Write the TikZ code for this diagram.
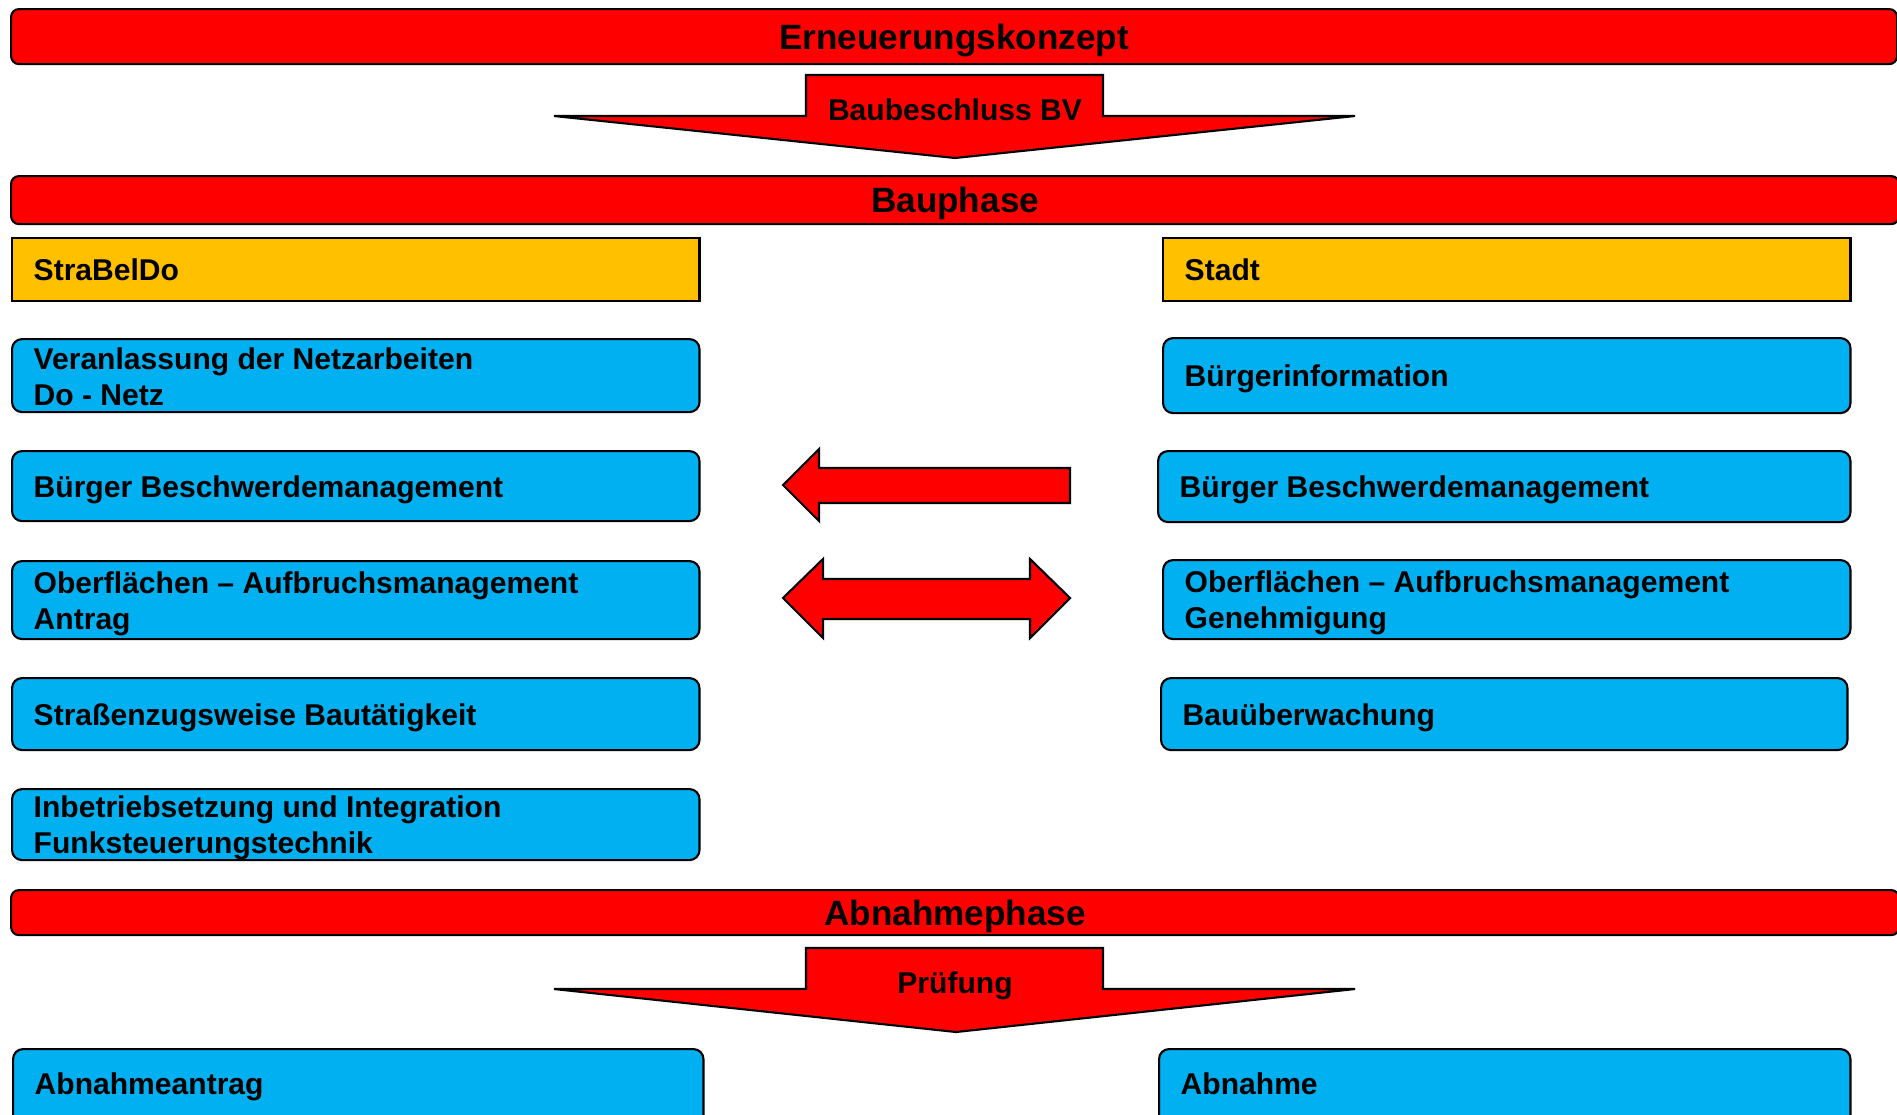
\documentclass[tikz,border=0pt]{standalone}
\usepackage{fontspec}
\setmainfont{Liberation Sans}
\definecolor{cred}{HTML}{FF0000}
\definecolor{cyel}{HTML}{FFC000}
\definecolor{cblue}{HTML}{00B0F0}
\newcommand{\bodyfnt}{\fontsize{8.55pt}{10.2pt}\selectfont\bfseries}
\newcommand{\barfnt}{\fontsize{10pt}{12pt}\selectfont\bfseries}
\tikzset{
  bluebox/.style n args={2}{draw=black, line width=0.6pt, fill=cblue, rounded corners=0.1cm,
    anchor=north west, minimum width=#1, minimum height=#2, inner sep=0pt},
  yelbox/.style n args={2}{draw=black, line width=0.6pt, fill=cyel,
    anchor=north west, minimum width=#1, minimum height=#2, inner sep=0pt},
  redbar/.style n args={2}{draw=black, line width=0.6pt, fill=cred, rounded corners=0.08cm,
    anchor=north west, minimum width=#1, minimum height=#2, inner sep=0pt},
  boxtext/.style={anchor=west, inner sep=0pt, align=left, font=\bodyfnt},
  bartext/.style={inner sep=0pt, font=\barfnt},
  blockarrow/.style={draw=black, line width=0.6pt, fill=cred, line join=miter},
  arrowlabel/.style={inner sep=0pt, font=\bodyfnt},
}
\newcommand{\intext}[4][-0.033cm]{\node[boxtext] (#2) at ([xshift=0.22cm,yshift=#1]#3.west) {#4};}
\begin{document}
\begin{tikzpicture}[x=0.01cm,y=-0.01cm]
\useasboundingbox (0,0) rectangle (1897,1114);
% phase bars
\node[redbar={18.85cm}{0.55cm}] (erneu) at (10,8) {};
\node[bartext] (erneut) at ([yshift=-0.035cm]erneu.center) {Erneuerungskonzept};
\node[redbar={18.87cm}{0.48cm}] (bau) at (10,175) {};
\node[bartext] (baut) at ([yshift=-0.03cm]bau.center) {Bauphase};
\node[redbar={18.87cm}{0.45cm}] (abn) at (10,889) {};
\node[bartext] (abnt) at ([yshift=-0.035cm]abn.center) {Abnahmephase};
% Baubeschluss arrow
\draw[blockarrow] (806,75) -- (1103,75) -- (1103,116) -- (1355,116) -- (955,158) -- (554,116) -- (806,116) -- cycle;
\node[arrowlabel] (bbv) at (955,110) {Baubeschluss BV};
% Pruefung arrow
\draw[blockarrow] (806,948) -- (1103,948) -- (1103,989) -- (1355,989) -- (956,1032) -- (554,989) -- (806,989) -- cycle;
\node[arrowlabel] (pruef) at (955,986) {Prüfung};
% column headers
\node[yelbox={6.87cm}{0.63cm}] (strabeldo) at (11,237) {};
\intext[0cm]{strabeldot}{strabeldo}{StraBelDo}
\node[yelbox={6.87cm}{0.63cm}] (stadt) at (1162,237) {};
\intext[0cm]{stadtt}{stadt}{Stadt}
% left column
\node[bluebox={6.87cm}{0.73cm}] (l1) at (11,338) {};
\intext[-0.013cm]{l1t}{l1}{Veranlassung der Netzarbeiten\\Do - Netz}
\node[bluebox={6.87cm}{0.70cm}] (l2) at (11,450) {};
\intext{l2t}{l2}{Bürger Beschwerdemanagement}
\node[bluebox={6.87cm}{0.78cm}] (l3) at (11,560) {};
\intext{l3t}{l3}{Oberflächen – Aufbruchsmanagement\\Antrag}
\node[bluebox={6.87cm}{0.72cm}] (l4) at (11,677) {};
\intext{l4t}{l4}{Straßenzugsweise Bautätigkeit}
\node[bluebox={6.87cm}{0.71cm}] (l5) at (11,788) {};
\intext{l5t}{l5}{Inbetriebsetzung und Integration\\Funksteuerungstechnik}
% right column
\node[bluebox={6.87cm}{0.75cm}] (r1) at (1162,337) {};
\intext{r1t}{r1}{Bürgerinformation}
\node[bluebox={6.92cm}{0.71cm}] (r2) at (1157,450) {};
\intext{r2t}{r2}{Bürger Beschwerdemanagement}
\node[bluebox={6.87cm}{0.79cm}] (r3) at (1162,559) {};
\intext{r3t}{r3}{Oberflächen – Aufbruchsmanagement\\Genehmigung}
\node[bluebox={6.86cm}{0.72cm}] (r4) at (1160,677) {};
\intext{r4t}{r4}{Bauüberwachung}
% block arrows between columns
\draw[blockarrow] (783,485) -- (819,449) -- (819,468) -- (1070,468) -- (1070,503) -- (819,503) -- (819,521) -- cycle;
\draw[blockarrow] (783,598) -- (823,559) -- (823,579) -- (1030,579) -- (1030,559) -- (1070,598) -- (1030,638) -- (1030,619) -- (823,619) -- (823,638) -- cycle;
% bottom boxes (cut by the lower edge)
\node[bluebox={6.90cm}{0.80cm}] (antrag) at (12,1048) {};
\node[boxtext, anchor=base west] (antragt) at (34,1094) {Abnahmeantrag};
\node[bluebox={6.91cm}{0.80cm}] (abnahme) at (1158,1048) {};
\node[boxtext, anchor=base west] (abnahmet) at (1180,1094) {Abnahme};
\end{tikzpicture}
\end{document}
